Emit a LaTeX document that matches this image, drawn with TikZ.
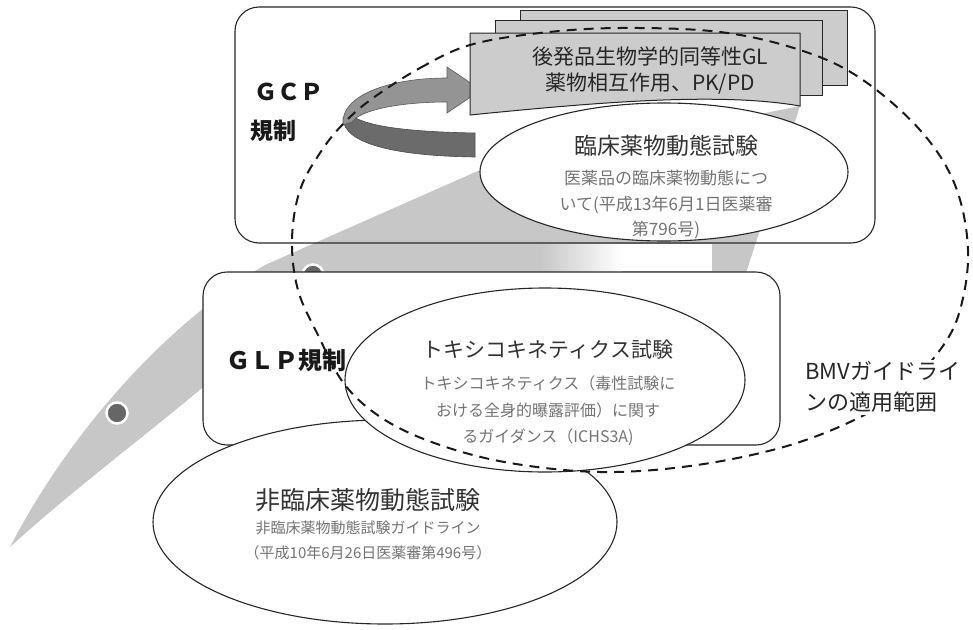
\documentclass[tikz,border=0pt]{standalone}
\usepackage{fontspec}
\newfontfamily\jp{Noto Sans CJK JP}
\usetikzlibrary{shapes.geometric}
\tikzset{
 outline/.style={draw=black!85, line width=1.1pt},
 ellbox/.style={ellipse, outline, fill=white, inner sep=0pt},
 rbox/.style={rectangle, outline, rounded corners=24pt, inner sep=0pt},
 docbox/.style={rectangle, draw=black!85, line width=1pt, fill=black!20, inner sep=0pt},
 bigttl/.style={font=\jp\fontsize{#1}{#1}\selectfont, text=black!80, inner sep=0pt},
 subttl/.style={font=\jp\fontsize{#1}{#1}\selectfont, text=black!55, inner sep=0pt},
 lbl/.style={font=\jp\bfseries\fontsize{#1}{#1}\selectfont, text=black!90, inner sep=0pt},
 dotmark/.style={circle, fill=black!60, draw=white, line width=2.5pt, minimum size=21pt, inner sep=0pt},
}
\begin{document}
\begin{tikzpicture}[x=1pt,y=-1pt]
\useasboundingbox (0,0) rectangle (973,629);
\fill[white] (0,0) rectangle (973,629);
% swoosh
\fill[black!22] (10,547) .. controls (60,450) and (150,335) .. (265,265) -- (480,170) -- (800,106) -- (760,230) -- (745,276) -- (300,300) .. controls (210,390) and (100,465) .. (10,547) -- cycle;
\shade[left color=black!22, right color=white] (540,244) rectangle (622,271);
\fill[white] (621,244) rectangle (712,271);
% dots
\node[dotmark] (dot1) at (117,413) {};
\node[dotmark] (dot2) at (313,275) {};
% GCP box
\node[rbox, minimum width=640pt, minimum height=236pt] (gcpbox) at (555,125) {};
% curved arrow
\filldraw[fill=black!58, draw=black!70, line width=0.6pt] (475,133) .. controls (420,132) and (360,128) .. (348,112) -- (343,118) .. controls (343,145) and (400,156) .. (475,157) -- cycle;
\filldraw[fill=black!42, draw=black!65, line width=0.6pt] (343,125) .. controls (340,95) and (390,78) .. (447,78) -- (447,67) -- (481,90) -- (447,113) -- (447,102) .. controls (400,102) and (360,110) .. (352,122) -- cycle;
% stacked documents
\node[docbox, minimum width=327pt, minimum height=75pt] (back) at (683.5,47.5) {};
\node[docbox, minimum width=327pt, minimum height=75pt] (mid) at (658.5,57.5) {};
\filldraw[fill=black!20, draw=black!85, line width=1pt] (470,33) -- (800,33) -- (800,106) .. controls (720,92) and (600,102) .. (470,115) -- cycle;
\node[bigttl=21, text=black!85] (front1) at (650,57) {後発品生物学的同等性GL};
\node[bigttl=21, text=black!85] (front2) at (650,84) {薬物相互作用、PK/PD};
% clinical PK ellipse
\node[ellbox, minimum width=368pt, minimum height=138pt] (clin) at (664,172) {};
\node[bigttl=23] (clin1) at (666,146) {臨床薬物動態試験};
\node[subttl=17] (clin2) at (666,178) {医薬品の臨床薬物動態につ};
\node[subttl=17] (clin3) at (666,205) {いて(平成13年6月1日医薬審};
\node[subttl=17] (clin4) at (666,230) {第796号)};
% GCP label
\node[lbl=23, anchor=west] (gcp1) at (254,92) {ＧＣＰ};
\node[lbl=23, anchor=west] (gcp2) at (250,131) {規制};
% GLP box
\node[rbox, fill=white, minimum width=577pt, minimum height=173pt] (glpbox) at (491.5,358.5) {};
\node[lbl=24, anchor=west] (glp) at (226,360) {ＧＬＰ規制};
% non-clinical ellipse
\node[ellbox, minimum width=464pt, minimum height=204pt] (nonclin) at (385,522) {};
\node[bigttl=25] (non1) at (368,500) {非臨床薬物動態試験};
\node[subttl=15] (non2) at (368,528) {非臨床薬物動態試験ガイドライン};
\node[subttl=15] (non3) at (368,553) {（平成10年6月26日医薬審第496号）};
% toxicokinetics ellipse
\node[ellbox, minimum width=400pt, minimum height=184pt] (tox) at (545,380) {};
\node[bigttl=21] (tox1) at (548,350) {トキシコキネティクス試験};
\node[subttl=16] (tox2) at (548,383) {トキシコキネティクス（毒性試験に};
\node[subttl=16] (tox3) at (548,410) {おける全身的曝露評価）に関す};
\node[subttl=16] (tox4) at (548,437) {るガイダンス（ICHS3A)};
% BMV scope (dashed)
\draw[black!90, line width=2pt, dash pattern=on 10pt off 7pt] plot[smooth cycle, tension=0.6] coordinates {
 (373,98) (420,68) (470,45) (540,33) (620,28) (720,32) (800,50) (860,78) (920,130) (955,185) (968,250) (960,310) (940,350) (900,392) (850,422) (780,448) (690,466) (600,472) (510,463) (440,445) (385,420) (345,385) (318,335) (298,290) (292,240) (300,190) (322,150) (345,122)};
\node[fill=white, inner sep=2pt, align=left, anchor=west, font=\jp\fontsize{22}{31}\selectfont, text=black!85] (bmv) at (803,387) {BMVガイドライ\\ンの適用範囲};
\end{tikzpicture}
\end{document}
